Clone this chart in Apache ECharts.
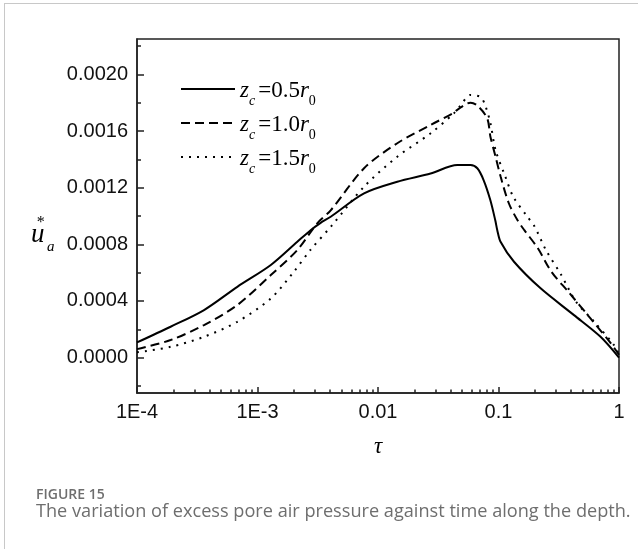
<!DOCTYPE html>
<html>
<head>
<meta charset="UTF-8">
<title>FIGURE 15</title>
<script src="https://cdn.jsdelivr.net/npm/echarts@6/dist/echarts.min.js"></script>
<style>
  body { margin: 0; background: #fff; }
  #container { position: absolute; left: 0; top: 0; width: 638px; height: 549px; }
  #frame { position: absolute; left: 4px; top: 3px; width: 640px; height: 560px;
           border-left: 1px solid #c8c8c8; border-top: 1px solid #c8c8c8; pointer-events: none; }
</style>
</head>
<body>
	<div id="container"></div>
	<div id="frame"></div>
	<script type="text/javascript">
	// tau values and u_a* for the three depths
	var tau05 = [1e-4, 1.9e-4, 3.6e-4, 6.8e-4, 1.29e-3, 2.14e-3, 2.76e-3, 3.32e-3, 4.05e-3, 7.66e-3, 0.01446, 0.02733, 0.0455, 0.0586, 0.0667, 0.0752, 0.0855, 0.094, 0.0977, 0.104, 0.1345, 0.2236, 0.4233, 0.703, 1];
	var val05 = [0.000107, 0.000218, 0.000336, 0.0005, 0.000654, 0.000818, 0.0009, 0.00095, 0.000995, 0.00116, 0.001242, 0.0013, 0.00136, 0.00136, 0.001337, 0.001254, 0.001113, 0.00097, 0.0009, 0.000818, 0.000677, 0.000489, 0.0003, 0.000147, 0.0];

	var tau10 = [1e-4, 1.9e-4, 3.6e-4, 6.8e-4, 1.29e-3, 2.14e-3, 3.13e-3, 4.05e-3, 7.66e-3, 0.01446, 0.02733, 0.0427, 0.0455, 0.0586, 0.0667, 0.0806, 0.0857, 0.0945, 0.104, 0.1218, 0.1439, 0.1639, 0.2122, 0.2748, 0.3796, 0.5797, 0.857, 1];
	var val10 = [0.00006, 0.000124, 0.00023, 0.000371, 0.000583, 0.00076, 0.000948, 0.00104, 0.001337, 0.001514, 0.001643, 0.00173, 0.00175, 0.0018, 0.00178, 0.00169, 0.00156, 0.00142, 0.00128, 0.00109, 0.00097, 0.0009, 0.000772, 0.000606, 0.000465, 0.000277, 0.0001, 0.00002];

	var tau15 = [1e-4, 1.9e-4, 3.6e-4, 6.8e-4, 1.29e-3, 2.0e-3, 2.75e-3, 4.17e-3, 7.66e-3, 0.01446, 0.02733, 0.0427, 0.0483, 0.0586, 0.0711, 0.0777, 0.0857, 0.0945, 0.1137, 0.1326, 0.1735, 0.198, 0.2475, 0.3318, 0.4406, 0.6229, 0.9093, 1];
	var val15 = [0.000037, 0.000076, 0.000147, 0.000253, 0.000418, 0.000606, 0.00076, 0.000936, 0.001207, 0.001419, 0.001584, 0.001726, 0.00178, 0.001855, 0.00184, 0.00178, 0.001655, 0.001466, 0.00128, 0.001136, 0.000995, 0.00093, 0.00076, 0.000583, 0.000394, 0.000253, 0.000088, 0.00002];

	var seriesNames = ['z05', 'z10', 'z15'];
	var legendValues = ['0.5', '1.0', '1.5'];

	// tick labels
	var xMajorTicks = [1e-4, 1e-3, 0.01, 0.1, 1];
	var xMajorLabels = ['1E-4', '1E-3', '0.01', '0.1', '1'];
	var xMinorTicks = [];
	for (var d = -4; d < 0; d++) {
		for (var k = 2; k <= 9; k++) xMinorTicks.push(k * Math.pow(10, d));
	}
	var yMajorTicks = [0, 0.0004, 0.0008, 0.0012, 0.0016, 0.0020];
	var yMinorTicks = [-0.0002, 0.0002, 0.0006, 0.0010, 0.0014, 0.0018, 0.0022];

	function pairs(xs, ys) {
		var out = [];
		for (var i = 0; i < xs.length; i++) out.push([xs[i], ys[i]]);
		return out;
	}

	var serif = '"Liberation Serif", "Times New Roman", serif';
	var sans = '"Liberation Sans", Arial, sans-serif';

	function serifTitle(txt, left, top, size) {
		return {
			text: txt, left: left, top: top, padding: 0,
			textStyle: { fontFamily: serif, fontStyle: 'italic', fontWeight: 'normal', fontSize: size, color: '#000' }
		};
	}

	var dom = document.getElementById("container");
	var myChart = echarts.init(dom);
	var option = {
		animation: false,
		title: [
			// y axis name  u_a^*
			serifTitle('u', 31, 221, 27),
			serifTitle('*', 36, 215, 16),
			serifTitle('a', 47, 240, 15),
			{
				text: 'FIGURE 15',
				left: 36, top: 488, padding: 0,
				textStyle: { fontFamily: '"Open Sans", sans-serif', fontWeight: 600, fontSize: 14, color: '#6e6e6e' }
			},
			{
				text: 'The variation of excess pore air pressure against time along the depth.',
				left: 36, top: 503, padding: 0,
				textStyle: { fontFamily: '"Open Sans", sans-serif', fontWeight: 400, fontSize: 18.15, color: '#6e6e6e' }
			}
		],
		legend: {
			orient: 'vertical',
			left: 180, top: 77, padding: 0,
			itemWidth: 54, itemHeight: 14, itemGap: 3,
			itemStyle: { opacity: 0 },
			data: seriesNames,
			formatter: function (name) {
				var i = seriesNames.indexOf(name);
				return '{z|z}{c|c}{m|=' + legendValues[i] + '}{r|r}{o|0}';
			},
			textStyle: {
				rich: {
					z: { fontFamily: serif, fontStyle: 'italic', fontSize: 23, lineHeight: 24, verticalAlign: 'top', padding: [2, 0, 0, 0], color: '#000' },
					c: { fontFamily: serif, fontStyle: 'italic', fontSize: 14, lineHeight: 14, verticalAlign: 'top', padding: [17, 3, 0, 0], color: '#000' },
					m: { fontFamily: serif, fontSize: 23, lineHeight: 24, verticalAlign: 'top', padding: [2, 0, 0, 0], color: '#000' },
					r: { fontFamily: serif, fontStyle: 'italic', fontSize: 23, lineHeight: 24, verticalAlign: 'top', padding: [2, 0, 0, 0], color: '#000' },
					o: { fontFamily: serif, fontSize: 14, lineHeight: 14, verticalAlign: 'top', padding: [17, 0, 0, 0], color: '#000' }
				}
			}
		},
		grid: { left: 137, right: 19, top: 39, bottom: 156, show: true, borderColor: '#222', borderWidth: 1.5, containLabel: false },
		xAxis: [
			{
				type: 'log', logBase: 10, min: 1e-4, max: 1, position: 'bottom',
				name: 'τ', nameLocation: 'middle', nameGap: 42,
				nameTextStyle: { fontFamily: serif, fontStyle: 'italic', fontSize: 23, color: '#000' },
				axisLine: { onZero: false, lineStyle: { color: '#222', width: 1.5 } },
				axisTick: { inside: true, length: 6, customValues: xMajorTicks, lineStyle: { color: '#222', width: 1.5 } },
				axisLabel: {
					customValues: xMajorTicks, margin: 9,
					fontFamily: sans, fontSize: 20, color: '#111',
					formatter: function (v) {
						var i = Math.round(Math.log10(v)) + 4;
						return xMajorLabels[i];
					}
				},
				splitLine: { show: false }
			},
			{
				type: 'log', logBase: 10, min: 1e-4, max: 1, position: 'bottom',
				axisLine: { show: false, onZero: false },
				axisTick: { inside: true, length: 3.5, customValues: xMinorTicks, lineStyle: { color: '#222', width: 1.5 } },
				axisLabel: { show: false },
				splitLine: { show: false }
			}
		],
		yAxis: [
			{
				type: 'value', min: -0.00025, max: 0.00225, position: 'left',
				axisLine: { show: true, onZero: false, lineStyle: { color: '#222', width: 1.5 } },
				axisTick: { show: true, inside: true, length: 7, customValues: yMajorTicks, lineStyle: { color: '#222', width: 1.5 } },
				axisLabel: {
					customValues: yMajorTicks, margin: 9,
					fontFamily: sans, fontSize: 20, color: '#111',
					formatter: function (v) { return v.toFixed(4); }
				},
				splitLine: { show: false }
			},
			{
				type: 'value', min: -0.00025, max: 0.00225, position: 'left',
				axisLine: { show: false, onZero: false },
				axisTick: { show: true, inside: true, length: 4, customValues: yMinorTicks, lineStyle: { color: '#222', width: 1.5 } },
				axisLabel: { show: false },
				splitLine: { show: false }
			}
		],
		series: [
			{
				name: seriesNames[0], type: 'line', symbol: 'none', smooth: 0.3,
				xAxisIndex: 0, yAxisIndex: 0,
				lineStyle: { color: '#000', width: 2, type: 'solid' },
				itemStyle: { color: '#000' },
				data: pairs(tau05, val05)
			},
			{
				name: seriesNames[1], type: 'line', symbol: 'none', smooth: 0.3,
				xAxisIndex: 0, yAxisIndex: 0,
				lineStyle: { color: '#000', width: 2, type: [9, 5] },
				itemStyle: { color: '#000' },
				data: pairs(tau10, val10)
			},
			{
				name: seriesNames[2], type: 'line', symbol: 'none', smooth: 0.3,
				xAxisIndex: 0, yAxisIndex: 0,
				lineStyle: { color: '#000', width: 2, type: [2, 6] },
				itemStyle: { color: '#000' },
				data: pairs(tau15, val15)
			}
		]
	};
	myChart.setOption(option, true);
	</script>
</body>
</html>
